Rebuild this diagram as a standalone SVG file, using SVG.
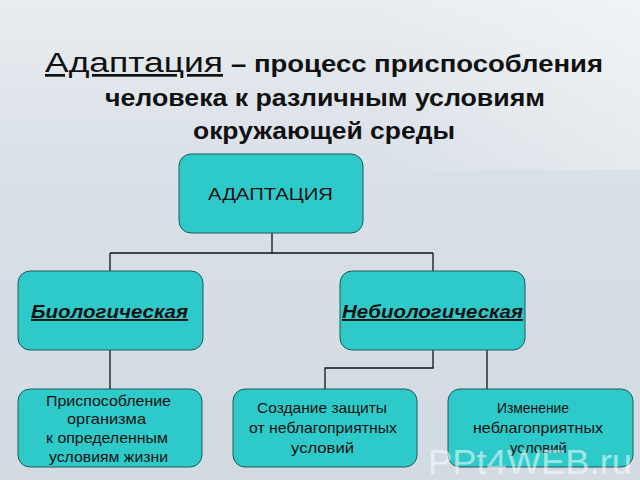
<svg xmlns="http://www.w3.org/2000/svg" width="640" height="480" viewBox="0 0 640 480">
<defs>
<linearGradient id="bg" x1="0" y1="0" x2="0" y2="1">
<stop offset="0" stop-color="#e9edf1"/>
<stop offset="0.35" stop-color="#d9e0e7"/>
<stop offset="1" stop-color="#d2dae2"/>
</linearGradient>
<linearGradient id="panel" x1="0" y1="0" x2="1" y2="0">
<stop offset="0" stop-color="#ffffff" stop-opacity="0"/>
<stop offset="1" stop-color="#ffffff" stop-opacity="0.35"/>
</linearGradient>
<style>
.node{fill:#2ecac9;stroke:#1e5a5e;stroke-width:1}
.conn{stroke:#111;stroke-width:1.3;fill:none}
.t{font-family:"Liberation Sans",Arial,sans-serif;fill:#111}
.big{font-size:16.5px}
.mid{font-size:19px;font-weight:bold;font-style:italic;text-decoration:underline}
.small{font-size:15px}
.ttl{font-size:24.5px;font-weight:bold}
</style>
</defs>
<rect width="640" height="480" fill="url(#bg)"/>
<rect x="370" y="0" width="270" height="170" fill="url(#panel)"/>
<g id="title">
<text class="t" x="45" y="72" font-size="27" text-decoration="underline" textLength="178" lengthAdjust="spacingAndGlyphs">Адаптация</text>
<text class="t ttl" x="231" y="72" textLength="372" lengthAdjust="spacingAndGlyphs">– процесс приспособления</text>
<text class="t ttl" x="105" y="106" textLength="440" lengthAdjust="spacingAndGlyphs">человека к различным условиям</text>
<text class="t ttl" x="193" y="139" textLength="262" lengthAdjust="spacingAndGlyphs">окружающей среды</text>
</g>
<g id="connectors">
<path class="conn" d="M272 233V253M110 253H433M110 253V271M433 253V271"/>
<path class="conn" d="M110 350V389"/>
<path class="conn" d="M433 350V368H325V389M487 350V389"/>
</g>
<g id="n-adapt">
<rect class="node" x="179" y="154" width="184" height="79" rx="12"/>
<text class="t big" x="208" y="200" textLength="125" lengthAdjust="spacingAndGlyphs">АДАПТАЦИЯ</text>
</g>
<g id="n-bio">
<rect class="node" x="18" y="271" width="185" height="79" rx="12"/>
<text class="t mid" x="31" y="318" textLength="157" lengthAdjust="spacingAndGlyphs">Биологическая</text>
</g>
<g id="n-nonbio">
<rect class="node" x="340" y="271" width="185" height="79" rx="12"/>
<text class="t mid" x="342" y="318" textLength="181" lengthAdjust="spacingAndGlyphs">Небиологическая</text>
</g>
<g id="n-organism">
<rect class="node" x="18" y="389" width="184" height="78" rx="12"/>
<text class="t small" x="46" y="406" textLength="125" lengthAdjust="spacingAndGlyphs">Приспособление</text>
<text class="t small" x="67" y="424" textLength="79" lengthAdjust="spacingAndGlyphs">организма</text>
<text class="t small" x="46" y="443" textLength="122" lengthAdjust="spacingAndGlyphs">к определенным</text>
<text class="t small" x="49" y="462" textLength="119" lengthAdjust="spacingAndGlyphs">условиям жизни</text>
</g>
<g id="n-protect">
<rect class="node" x="233" y="389" width="184" height="78" rx="12"/>
<text class="t small" x="257" y="413" textLength="130" lengthAdjust="spacingAndGlyphs">Создание защиты</text>
<text class="t small" x="249" y="433" textLength="148" lengthAdjust="spacingAndGlyphs">от неблагоприятных</text>
<text class="t small" x="291" y="453" textLength="63" lengthAdjust="spacingAndGlyphs">условий</text>
</g>
<g id="n-change">
<rect class="node" x="448" y="389" width="185" height="78" rx="12"/>
<text class="t small" x="497" y="413" textLength="72" lengthAdjust="spacingAndGlyphs">Изменение</text>
<text class="t small" x="473" y="433" textLength="130" lengthAdjust="spacingAndGlyphs">неблагоприятных</text>
<text class="t small" x="510" y="453" textLength="57" lengthAdjust="spacingAndGlyphs">условий</text>
</g>
<text x="428" y="474" font-family="'Liberation Sans',Arial,sans-serif" font-size="35" fill="#ffffff" fill-opacity="0.55" textLength="204" lengthAdjust="spacingAndGlyphs">PPt4WEB.ru</text>
</svg>
